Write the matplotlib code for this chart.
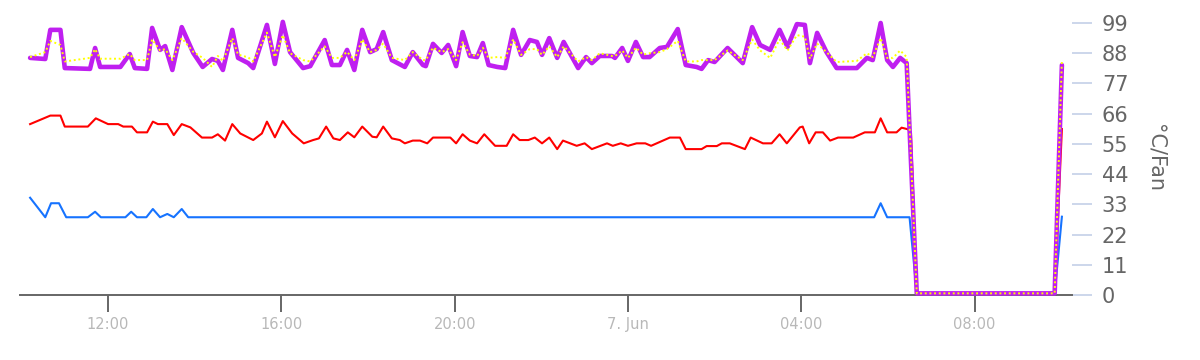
import matplotlib
matplotlib.use("Agg")
import matplotlib.pyplot as plt
import matplotlib.dates as mdates
import pandas as pd

# ---------------- data ----------------
fan_times = [
    "06 10:12", "06 10:33", "06 10:40", "06 10:54", "06 11:00", "06 11:35", "06 11:42", "06 11:49",
    "06 12:17", "06 12:30", "06 12:37", "06 12:54", "06 13:01", "06 13:12", "06 13:19", "06 13:29",
    "06 13:42", "06 13:58", "06 14:11", "06 14:24", "06 14:32", "06 14:39", "06 14:52", "06 15:00",
    "06 15:14", "06 15:21", "06 15:40", "06 15:51", "06 16:02", "06 16:12", "06 16:30", "06 16:40",
    "06 17:00", "06 17:10", "06 17:21", "06 17:31", "06 17:41", "06 17:52", "06 18:03", "06 18:12",
    "06 18:21", "06 18:33", "06 18:51", "06 19:02", "06 19:16", "06 19:20", "06 19:30", "06 19:42",
    "06 19:51", "06 20:02", "06 20:11", "06 20:21", "06 20:31", "06 20:39", "06 20:47", "06 20:59",
    "06 21:10", "06 21:21", "06 21:32", "06 21:44", "06 21:54", "06 22:01", "06 22:11", "06 22:22",
    "06 22:31", "06 22:51", "06 23:02", "06 23:10", "06 23:21", "06 23:38", "06 23:42", "06 23:52",
    "07 00:00", "07 00:11", "07 00:21", "07 00:30", "07 00:44", "07 00:54", "07 01:09", "07 01:20",
    "07 01:35", "07 01:42", "07 01:51", "07 02:00", "07 02:18", "07 02:39", "07 02:52", "07 03:03",
    "07 03:17", "07 03:30", "07 03:41", "07 03:54", "07 04:05", "07 04:12", "07 04:22", "07 04:35",
    "07 04:49", "07 05:17", "07 05:31", "07 05:39", "07 05:50", "07 05:59", "07 06:07", "07 06:17",
    "07 06:26", "07 06:40", "07 09:51", "07 10:01",
]
fan_purple = [
    86.3, 85.9, 96.5, 96.5, 82.6, 82.3, 89.9, 83.0,
    83.0, 87.7, 82.6, 82.3, 97.2, 89.2, 90.6, 81.9,
    97.5, 88.1, 83.0, 85.9, 85.2, 81.9, 96.5, 86.3,
    84.4, 82.6, 98.3, 84.1, 99.4, 88.4, 82.6, 83.3,
    92.8, 83.7, 83.7, 89.2, 81.9, 96.5, 88.4, 89.5,
    95.7, 85.5, 83.0, 88.4, 83.7, 83.3, 91.4, 88.1,
    91.0, 83.3, 95.7, 87.0, 86.6, 91.7, 83.7, 83.0,
    82.6, 96.5, 87.4, 92.8, 92.1, 87.4, 93.5, 86.3,
    92.1, 82.6, 86.6, 84.4, 87.0, 87.0, 86.3, 89.9,
    85.2, 92.1, 86.6, 86.6, 89.9, 90.3, 96.8, 83.7,
    83.0, 82.3, 85.5, 84.8, 89.9, 84.4, 97.5, 91.0,
    89.2, 96.5, 90.3, 98.6, 98.3, 84.4, 95.4, 88.4,
    82.6, 82.6, 86.3, 85.5, 99.0, 85.5, 83.0, 86.3,
    84.4, 0.6, 0.6, 83.7,
]
fan_yellow = [
    86.6, 88.4, 92.5, 91.0, 85.0, 86.3, 89.5, 86.0,
    86.0, 87.7, 85.5, 85.5, 93.0, 89.0, 89.5, 85.5,
    93.5, 88.5, 86.3, 83.0, 87.0, 85.2, 93.5, 87.5,
    86.5, 85.0, 95.5, 86.6, 94.6, 88.0, 85.5, 85.0,
    90.5, 86.3, 86.3, 88.5, 85.5, 93.0, 88.4, 89.2,
    91.5, 86.3, 85.5, 88.4, 85.5, 85.5, 90.0, 88.4,
    89.5, 85.5, 92.0, 87.5, 87.0, 90.0, 86.3, 86.6,
    86.3, 93.0, 87.4, 89.5, 89.5, 87.4, 90.5, 86.6,
    90.5, 85.0, 86.6, 85.5, 88.0, 87.0, 87.0, 89.0,
    86.3, 90.0, 87.5, 88.0, 88.4, 89.5, 92.5, 85.0,
    85.0, 85.5, 85.5, 85.5, 89.0, 85.5, 93.0, 89.0,
    86.3, 93.0, 89.0, 94.6, 94.0, 86.0, 91.5, 88.4,
    84.8, 85.2, 88.0, 86.6, 93.5, 86.3, 86.3, 89.0,
    86.6, 0.6, 0.6, 85.5,
]

temp_times = [
    "06 10:12", "06 10:40", "06 10:54", "06 11:00", "06 11:32", "06 11:43", "06 12:00", "06 12:14",
    "06 12:21", "06 12:33", "06 12:40", "06 12:54", "06 13:02", "06 13:09", "06 13:22", "06 13:31",
    "06 13:42", "06 13:54", "06 14:10", "06 14:24", "06 14:32", "06 14:42", "06 14:52", "06 15:03",
    "06 15:21", "06 15:33", "06 15:40", "06 15:51", "06 16:02", "06 16:15", "06 16:23", "06 16:31",
    "06 16:44", "06 16:52", "06 17:02", "06 17:12", "06 17:21", "06 17:32", "06 17:41", "06 17:52",
    "06 18:06", "06 18:12", "06 18:21", "06 18:33", "06 18:44", "06 18:51", "06 19:02", "06 19:12",
    "06 19:22", "06 19:30", "06 19:54", "06 20:02", "06 20:11", "06 20:21", "06 20:31", "06 20:41",
    "06 20:56", "06 21:12", "06 21:21", "06 21:30", "06 21:42", "06 21:51", "06 22:01", "06 22:11",
    "06 22:22", "06 22:30", "06 22:49", "06 23:00", "06 23:10", "06 23:31", "06 23:39", "06 23:50",
    "07 00:00", "07 00:12", "07 00:24", "07 00:32", "07 00:58", "07 01:12", "07 01:20", "07 01:42",
    "07 01:49", "07 02:03", "07 02:10", "07 02:21", "07 02:42", "07 02:50", "07 03:07", "07 03:19",
    "07 03:30", "07 03:40", "07 03:58", "07 04:02", "07 04:11", "07 04:20", "07 04:30", "07 04:40",
    "07 04:51", "07 05:12", "07 05:28", "07 05:42", "07 05:50", "07 05:59", "07 06:12", "07 06:19",
    "07 06:28", "07 06:32", "07 06:40", "07 09:51", "07 10:01",
]
temp_red = [
    62.2, 65.3, 65.3, 61.3, 61.3, 64.3, 62.2, 62.2,
    61.3, 61.3, 59.2, 59.2, 63.1, 62.2, 62.2, 58.2,
    62.2, 61.0, 57.3, 57.3, 58.5, 56.2, 62.2, 58.8,
    56.4, 58.8, 63.1, 57.4, 63.3, 58.8, 57.0, 55.2,
    56.4, 57.0, 61.3, 57.0, 56.4, 59.2, 57.4, 61.3,
    57.6, 57.4, 61.3, 57.0, 56.4, 55.2, 56.2, 56.2,
    55.2, 57.3, 57.3, 55.2, 58.5, 56.2, 55.2, 58.5,
    54.3, 54.3, 58.5, 56.4, 56.4, 57.3, 55.2, 57.3,
    53.1, 56.2, 54.3, 55.2, 53.1, 55.2, 54.3, 55.2,
    54.3, 55.2, 55.2, 54.3, 57.3, 57.3, 53.1, 53.1,
    54.2, 54.2, 55.2, 55.2, 53.1, 57.3, 55.2, 55.2,
    58.5, 55.2, 61.0, 61.3, 55.2, 59.2, 59.2, 56.2,
    57.3, 57.3, 59.2, 59.2, 64.3, 59.2, 59.2, 60.9,
    60.3, 59.0, 0.6, 0.6, 60.4,
]

blue_times = [
    "06 10:12", "06 10:33", "06 10:41", "06 10:52", "06 11:02", "06 11:32", "06 11:42", "06 11:50",
    "06 12:24", "06 12:32", "06 12:40", "06 12:53", "06 13:02", "06 13:12", "06 13:22", "06 13:31",
    "06 13:42", "06 13:51", "07 05:41", "07 05:50", "07 05:59", "07 06:30", "07 06:40", "07 09:51",
    "07 10:01",
]
blue_vals = [
    35.4, 28.3, 33.4, 33.4, 28.3, 28.3, 30.3, 28.3,
    28.3, 30.3, 28.3, 28.3, 31.3, 28.3, 29.5, 28.3,
    31.3, 28.3, 28.3, 33.4, 28.3, 28.3, 0.6, 0.6,
    28.5,
]

x_tick_times = ["06 12:00", "06 16:00", "06 20:00", "07 00:00", "07 04:00", "07 08:00"]
x_tick_labels = ["12:00", "16:00", "20:00", "7. Jun", "04:00", "08:00"]
y_ticks = [0, 11, 22, 33, 44, 55, 66, 77, 88, 99]
y_label = "°C/Fan"
x_range = ["06 09:58", "07 10:15"]


def to_dt(lst):
    return pd.to_datetime(["2024-06-" + s for s in lst])


# ---------------- figure ----------------
fig = plt.figure(figsize=(12, 3.6), dpi=100)
ax = fig.add_axes([20 / 1200, 1 - 295 / 360, 1052 / 1200, 274.75 / 360])

ax.plot(to_dt(blue_times), blue_vals, color="#1673ff", lw=1.5, clip_on=False, zorder=3,
        solid_joinstyle="round")
ax.plot(to_dt(temp_times), temp_red, color="#ff0000", lw=1.5, clip_on=False, zorder=4,
        solid_joinstyle="round")
ax.plot(to_dt(fan_times), fan_purple, color="#bf1ff0", lw=3.3, clip_on=False, zorder=5,
        solid_joinstyle="round", solid_capstyle="round")
ax.plot(to_dt(fan_times), fan_yellow, color="#ffff00", lw=1.4, ls=(0, (1, 1.4)),
        clip_on=False, zorder=6)

ax.set_xlim(to_dt(x_range))
ax.set_ylim(0, 100)

ax.set_xticks(to_dt(x_tick_times))
ax.set_xticklabels(x_tick_labels)
ax.tick_params(axis="x", direction="out", length=12, width=1.4, color="#666666",
               labelcolor="#b8b8b8", labelsize=10.5, pad=4)

ax.yaxis.tick_right()
ax.yaxis.set_label_position("right")
ax.set_yticks(y_ticks)
ax.tick_params(axis="y", direction="out", length=14.5, width=1.4, color="#ccd6eb",
               labelcolor="#666666", labelsize=15, pad=7)
ax.set_ylabel(y_label, rotation=270, color="#666666", fontsize=15, labelpad=12,
              va="bottom")

for side in ["top", "left", "right"]:
    ax.spines[side].set_visible(False)
ax.spines["bottom"].set_color("#666666")
ax.spines["bottom"].set_linewidth(1.4)
ax.spines["bottom"].set_zorder(2)

fig.savefig("out.png", dpi=100)
